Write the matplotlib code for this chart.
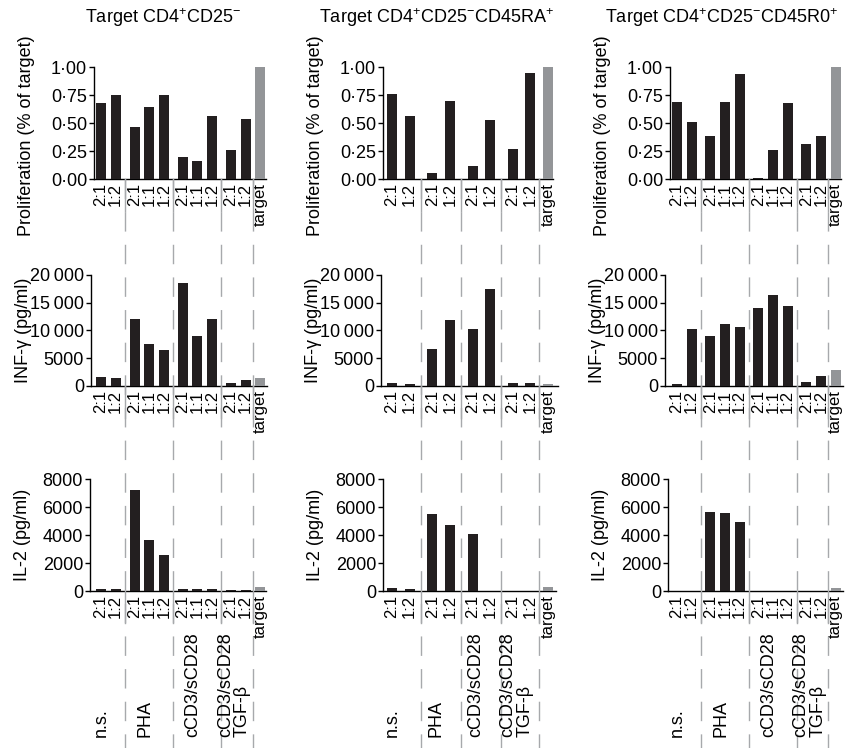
import matplotlib
matplotlib.use("Agg")
import matplotlib.pyplot as plt
from matplotlib import transforms
from matplotlib.lines import Line2D
import numpy as np

plt.rcParams['font.family'] = ['Liberation Sans', 'DejaVu Sans']
plt.rcParams['mathtext.fontset'] = 'custom'
plt.rcParams['mathtext.rm'] = 'Liberation Sans'
plt.rcParams['mathtext.it'] = 'Liberation Sans:italic'
plt.rcParams['mathtext.bf'] = 'Liberation Sans:bold'

# ---- data ----
titles = [r"Target CD4$^{+}$CD25$^{-}$",
          r"Target CD4$^{+}$CD25$^{-}$CD45RA$^{+}$",
          r"Target CD4$^{+}$CD25$^{-}$CD45R0$^{+}$"]
groups = ["n.s.", "PHA", "cCD3/sCD28", "cCD3/sCD28\nTGF-β"]
ratios_3 = [["2:1", "1:2"], ["2:1", "1:1", "1:2"], ["2:1", "1:1", "1:2"], ["2:1", "1:2"]]
ratios_2 = [["2:1", "1:2"], ["2:1", "1:2"], ["2:1", "1:2"], ["2:1", "1:2"]]
col_ratios = [ratios_3, ratios_2, ratios_3]

# last value in each list = target alone
prolif_cd25 = [0.68, 0.75, 0.46, 0.64, 0.75, 0.20, 0.16, 0.56, 0.26, 0.54, 1.00]
prolif_ra = [0.76, 0.56, 0.05, 0.70, 0.12, 0.53, 0.27, 0.95, 1.00]
prolif_r0 = [0.69, 0.51, 0.38, 0.69, 0.94, 0.01, 0.26, 0.68, 0.31, 0.38, 1.00]

ifng_cd25 = [1600, 1450, 12050, 7550, 6500, 18550, 9000, 12050, 550, 1100, 1450]
ifng_ra = [550, 350, 6650, 11900, 10250, 17450, 550, 550, 300]
ifng_r0 = [350, 10250, 9000, 11150, 10650, 14050, 16400, 14400, 700, 1800, 2900]

il2_cd25 = [120, 120, 7230, 3640, 2560, 120, 120, 120, 50, 50, 260]
il2_ra = [190, 120, 5510, 4720, 4070, 20, 20, 20, 260]
il2_r0 = [25, 25, 5650, 5580, 4930, 25, 25, 25, 25, 25, 190]

row_values = [[prolif_cd25, prolif_ra, prolif_r0],
              [ifng_cd25, ifng_ra, ifng_r0],
              [il2_cd25, il2_ra, il2_r0]]
row_labels = ["Proliferation (% of target)", "INF-γ (pg/ml)", "IL-2 (pg/ml)"]
row_ticks = [[0, 0.25, 0.5, 0.75, 1.0],
             [0, 5000, 10000, 15000, 20000],
             [0, 2000, 4000, 6000, 8000]]
row_ticklabels = [["0·00", "0·25", "0·50", "0·75", "1·00"],
                  ["0", "5000", "10\u2009000", "15\u2009000", "20\u2009000"],
                  ["0", "2000", "4000", "6000", "8000"]]

# ---- layout (pixels) ----
W, H = 847, 748
row_y = [(67, 179), (275, 386), (479, 591)]
col_lr = [[(94, 266), (91, 267), (90, 266)],
          [(383, 553), (381, 558), (383, 556)],
          [(670, 841), (665, 843), (668, 843)]]
col_px0 = [101, 392, 677]      # pixel of first bar centre
col_ppu = [14.6, 17.5, 14.55]  # pixels per bar slot
title_x = [163, 437, 722]
BAR_PX = 10
GAP = 0.3
BLACK = "#231f20"
GREY = "#939598"
SEP = "#a7a9ac"
FS = 13


def bar_positions(ratios):
    xs, x = [], 0.0
    for g in ratios:
        for _ in g:
            xs.append(x)
            x += 1
        x += GAP
    xs.append(x - GAP)
    return np.array(xs)


fig = plt.figure(figsize=(W / 100, H / 100), dpi=100)

for c in range(3):
    ratios = col_ratios[c]
    xs = bar_positions(ratios)
    ticklabels = [r for g in ratios for r in g] + ["target"]
    colors = [BLACK] * (len(xs) - 1) + [GREY]
    px0, ppu = col_px0[c], col_ppu[c]
    axes = []
    for r in range(3):
        L, R = col_lr[c][r]
        top, bot = row_y[r]
        ax = fig.add_axes([L / W, 1 - bot / H, (R - L) / W, (bot - top) / H])
        vals = row_values[r][c]
        ax.bar(xs, vals, width=BAR_PX / ppu, color=colors, zorder=3)
        ax.set_xlim((L - px0) / ppu, (R - px0) / ppu)
        ax.set_ylim(row_ticks[r][0], row_ticks[r][-1])
        ax.set_yticks(row_ticks[r])
        ax.set_yticklabels(row_ticklabels[r])
        ax.set_xticks(xs)
        ax.set_xticklabels(ticklabels, rotation=90)
        ax.tick_params(axis='x', length=0, pad=3, labelsize=12)
        ax.tick_params(axis='y', direction='out', length=3.5, width=1, pad=1.5, labelsize=FS)
        for s in ("top", "right"):
            ax.spines[s].set_visible(False)
        for s in ("left", "bottom"):
            ax.spines[s].set_linewidth(1.0)
        ax.set_ylabel(row_labels[r], fontsize=FS)
        ax.yaxis.set_label_coords(-59 / (R - L), 0.39 if r == 0 else 0.5)
        ax.patch.set_alpha(0)
        axes.append(ax)

    fig.text(title_x[c] / W, 1 - 23 / H, titles[c], ha='center', va='baseline', fontsize=FS)

    # group separators
    ends, starts = [], []
    i = 0
    for g in ratios:
        i += len(g)
        ends.append(xs[i - 1])
        starts.append(xs[i])
    tr = transforms.blended_transform_factory(axes[0].transData, fig.transFigure)
    for e, s in zip(ends, starts):
        xm = (e + s) / 2
        fig.add_artist(Line2D([xm, xm], [1 - 179 / H, 0], transform=tr, color=SEP,
                              lw=1.0, linestyle=(0, (14, 9.5)), zorder=1))
        for top, bot in row_y:
            fig.add_artist(Line2D([xm, xm], [1 - bot / H, 1 - (bot + 32) / H], transform=tr,
                                  color=SEP, lw=1.0, zorder=1))

    # group names at the bottom
    trb = transforms.blended_transform_factory(axes[2].transData, fig.transFigure)
    i = 0
    for k, (name, g) in enumerate(zip(groups, ratios)):
        gx = xs[i:i + len(g)].mean() - (0.5 if k == 0 else 0.3)
        i += len(g)
        fig.text(gx, 11 / H, name, transform=trb, rotation=90, ha='center', va='bottom',
                 multialignment='left', fontsize=FS, linespacing=1.0)

fig.savefig("out.png", dpi=100)
